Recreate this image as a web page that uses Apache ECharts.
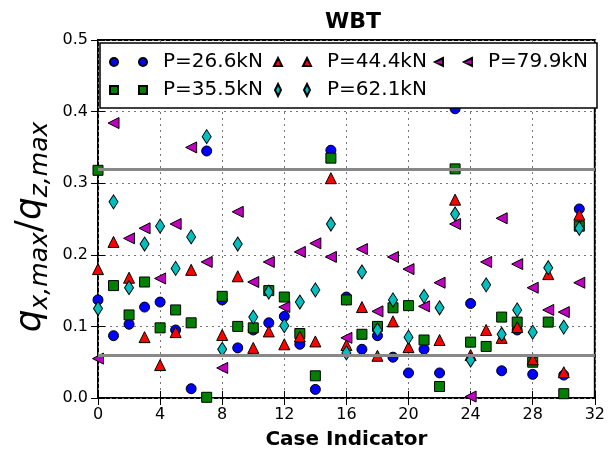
<!DOCTYPE html>
<html>
<head>
<meta charset="utf-8">
<script src="https://cdn.jsdelivr.net/npm/echarts@6/dist/echarts.min.js"></script>
<style>html,body{margin:0;padding:0;background:#fff}#c{width:608px;height:457px}</style>
</head>
<body>
<div id="c"></div>
<script>
const caseIdx = [0,1,2,3,4,5,6,7,8,9,10,11,12,13,14,15,16,17,18,19,20,21,22,23,24,25,26,27,28,29,30,31];
const xTicks = [0,4,8,12,16,20,24,28,32];
const yTicks = ['0.0','0.1','0.2','0.3','0.4','0.5'];
const seriesNames = ['P=26.6kN','P=35.5kN','P=44.4kN','P=62.1kN','P=79.9kN'];
const p266 = [0.137,0.087,0.103,0.127,0.134,0.095,0.013,0.345,0.137,0.070,0.095,0.105,0.114,0.075,0.012,0.346,0.141,0.068,0.087,0.057,0.035,0.068,0.035,0.404,0.132,null,0.038,0.095,0.033,null,0.032,0.264];
const p355 = [0.318,0.157,0.116,0.162,0.098,0.123,0.105,0.001,0.142,0.100,0.098,0.150,0.141,0.090,0.031,0.335,0.137,0.089,0.100,0.126,0.129,0.081,0.016,0.320,0.078,0.072,0.113,0.106,0.050,0.106,0.006,0.240];
const p444 = [0.180,0.218,0.168,0.085,0.046,0.092,0.179,null,0.088,0.170,0.070,0.093,0.075,0.086,0.079,0.307,0.074,0.127,0.059,0.107,0.071,null,0.081,0.277,0.060,0.095,0.084,0.099,0.054,0.173,0.036,0.256];
const p621 = [0.125,0.274,0.154,0.215,0.240,0.181,0.225,0.365,0.068,0.215,0.113,0.148,0.101,0.134,0.151,0.243,0.063,0.176,0.095,0.137,0.085,0.142,0.126,0.257,0.053,0.158,0.089,0.123,0.092,0.182,0.099,0.237];
const p799 = [0.055,0.384,0.223,0.237,0.167,0.243,0.350,0.190,0.042,0.260,0.162,0.190,0.127,0.204,0.216,0.197,0.084,0.208,0.121,0.197,0.180,0.128,0.161,0.243,0.002,0.190,0.251,0.187,0.154,0.123,0.120,0.161];
const refLevels = [0.32, 0.055];

const toPts = arr => arr.map((v,i)=>[caseIdx[i], v]).filter(p=>p[1]!==null);

const chart = echarts.init(document.getElementById('c'), null, {renderer:'canvas'});
const tickFont = {fontFamily:'DejaVu Sans', fontSize:16, color:'#000'};
const edge = {borderColor:'#000', borderWidth:1};

function mk(name, data, symbol, size, color, extra) {
  return Object.assign({
    type:'scatter', name, data:toPts(data), symbol, symbolSize:size,
    itemStyle:Object.assign({color, opacity:1}, edge), z:2, silent:true
  }, extra||{});
}

const legendIcons = {
  'P=26.6kN':'path://M0,0M0,7A4,4,0,1,1,8,7A4,4,0,1,1,0,7ZM29,7A4,4,0,1,1,37,7A4,4,0,1,1,29,7ZM37,14',
  'P=35.5kN':'path://M0,0M0,3L8,3L8,11L0,11ZM29,3L37,3L37,11L29,11ZM37,14',
  'P=44.4kN':'path://M0,0M4,3L8,11L0,11ZM33,3L37,11L29,11ZM37,14',
  'P=62.1kN':'path://M0,0M4,1L7,7L4,13L1,7ZM33,1L36,7L33,13L30,7ZM37,14',
  'P=79.9kN':'path://M0,0M8,3L0,7L8,11ZM37,3L29,7L37,11ZM37,14'
};
const legendPos = [[109,50],[109,78],[273,50],[273,78],[434,50]];
const legends = seriesNames.map((n,i)=>({
  show:true, left:legendPos[i][0], top:legendPos[i][1], padding:0,
  itemWidth:37, itemHeight:14, itemGap:0, selectedMode:false, z:5,
  data:[{name:n, icon:legendIcons[n]}],
  textStyle:{fontFamily:'DejaVu Sans', fontSize:20, color:'#000', lineHeight:24, padding:[0,0,0,11]}
}));

// y-axis label pieces (math-like)
const ctx = document.createElement('canvas').getContext('2d');
const mainFont = 'italic 36px "DejaVu Sans"';
const subFont = 'italic 25px "DejaVu Sans"';
const pieces = [
  {t:'q', f:mainFont, dy:0},
  {t:'x,max', f:subFont, dy:9},
  {t:'/', f:'36px "DejaVu Sans"', dy:0},
  {t:'q', f:mainFont, dy:0},
  {t:'z,max', f:subFont, dy:9}
];
let total = 0;
pieces.forEach(p=>{ctx.font=p.f; p.w=ctx.measureText(p.t).width; total+=p.w;});
let cx = -total/2;
const labelChildren = pieces.map(p=>{
  const el = {type:'text', style:{text:p.t, x:cx, y:p.dy, font:p.f, fill:'#000', textAlign:'left', textVerticalAlign:'middle'}};
  cx += p.w; return el;
});

const option = {
  animation:false,
  backgroundColor:'#fff',
  title:{text:'WBT', left:348, top:6, textAlign:'center',
    textStyle:{fontFamily:'DejaVu Sans', fontSize:22, fontWeight:'bold', color:'#000'}},
  grid:{left:98, right:10, top:40, bottom:59, show:true, borderColor:'#000', borderWidth:2, backgroundColor:'#fff'},
  legend:legends,
  xAxis:[
    {type:'value', min:xTicks[0], max:xTicks[xTicks.length-1], interval:4, position:'bottom',
     name:'Case Indicator', nameLocation:'middle', nameGap:32,
     nameTextStyle:{fontFamily:'DejaVu Sans', fontSize:20, fontWeight:'bold', color:'#000'},
     axisLine:{show:false}, axisTick:{show:true, inside:true, length:7, lineStyle:{color:'#000', width:1}},
     axisLabel:Object.assign({margin:9}, tickFont),
     splitLine:{show:true, lineStyle:{color:'#777', width:1, type:[2,4]}}},
    {type:'value', min:xTicks[0], max:xTicks[xTicks.length-1], interval:4, position:'top',
     axisLine:{show:false}, axisTick:{show:true, inside:true, length:7, lineStyle:{color:'#000', width:1}},
     axisLabel:{show:false}, splitLine:{show:false}}
  ],
  yAxis:[
    {type:'value', min:0, max:0.5, interval:0.1, position:'left',
     axisLine:{show:false}, axisTick:{show:true, inside:true, length:7, lineStyle:{color:'#000', width:1}},
     axisLabel:Object.assign({margin:10, formatter:v=>yTicks[Math.round(v*10)]}, tickFont),
     splitLine:{show:true, lineStyle:{color:'#777', width:1, type:[2,4]}}},
    {type:'value', min:0, max:0.5, interval:0.1, position:'right',
     axisLine:{show:false}, axisTick:{show:true, inside:true, length:7, lineStyle:{color:'#000', width:1}},
     axisLabel:{show:false}, splitLine:{show:false}}
  ],
  series:[
    {type:'line', data:[], z:1, silent:true, symbol:'none',
     markLine:{silent:true, symbol:'none', label:{show:false},
       lineStyle:{color:'#888', width:3, type:'solid'},
       data:refLevels.map(v=>({yAxis:v}))}},
    mk(seriesNames[0], p266, 'circle', 10, '#0000ff'),
    mk(seriesNames[1], p355, 'rect', 10, '#008000'),
    mk(seriesNames[2], p444, 'triangle', 11, '#ff0000'),
    mk(seriesNames[3], p621, 'diamond', [9,14], '#00bfbf'),
    mk(seriesNames[4], p799, 'triangle', 11, '#bf00bf', {symbolRotate:90})
  ],
  graphic:[
    {type:'rect', shape:{x:100, y:43, width:497, height:65}, style:{fill:'#fff', stroke:'#000', lineWidth:1.5}, z:4, silent:true},
    {type:'group', x:31, y:227, rotation:Math.PI/2, children:labelChildren, z:4}
  ]
};
chart.setOption(option);
</script>
</body>
</html>
